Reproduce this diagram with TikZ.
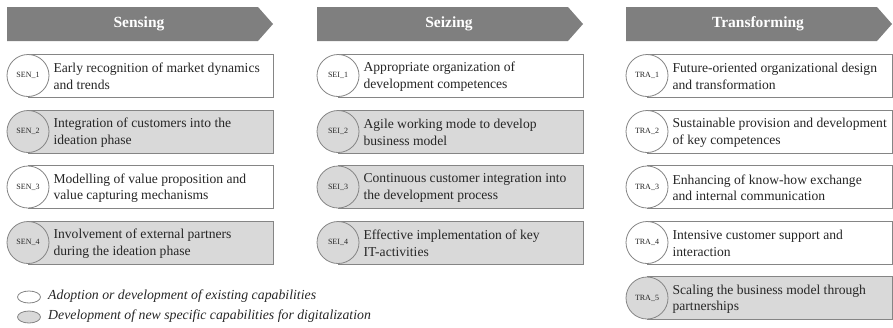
\documentclass[tikz,border=0pt]{standalone}
\usepackage{fontspec}
\setmainfont{Liberation Serif}
\usetikzlibrary{shapes.geometric}

\definecolor{hdrgray}{HTML}{7F7F7F}
\definecolor{linegray}{HTML}{858585}
\definecolor{newgray}{HTML}{D9D9D9}
\definecolor{txtgray}{HTML}{262626}

\tikzset{
  hdrshape/.style={fill=hdrgray, draw=none},
  hdrtext/.style={text=white, font=\fontsize{15.5}{18}\selectfont\bfseries, inner sep=0},
  capbox/.style={draw=linegray, line width=0.8pt, minimum height=43pt, minimum width=245pt, inner sep=0, anchor=west},
  capcirc/.style={draw=linegray, line width=0.8pt, circle, minimum size=42pt, inner sep=0,
                  font=\fontsize{8}{9}\selectfont, text=txtgray},
  captext/.style={anchor=west, align=left, font=\fontsize{13.6}{16.5}\selectfont, text=txtgray, inner sep=0},
  oldcap/.style={fill=white},
  newcap/.style={fill=newgray},
  legmark/.style={draw=linegray, line width=0.8pt, ellipse, minimum width=23pt, minimum height=12pt, inner sep=0},
  legtext/.style={anchor=west, font=\fontsize{13.8}{16}\selectfont\itshape, text=txtgray, inner sep=0},
}

% #1 node name, #2 column left edge, #3 row centre, #4 label, #5 style, #6 text
\newcommand\capitem[6]{%
  \node[capbox,#5] (#1box) at (#2+21,#3) {};
  \node[capcirc,#5] (#1) at (#2+21,#3) {#4};
  \node[captext] (#1txt) at ([xshift=4pt,yshift=-1pt]#1.east) {#6};
}

% #1 node name, #2 column left edge, #3 title
\newcommand\phasehead[3]{%
  \fill[hdrshape] (#2,7) -- (#2+251,7) -- (#2+266,24) -- (#2+251,41) -- (#2,41) -- cycle;
  \node[hdrtext] (#1) at (#2+132,24) {#3};
}

\begin{document}
\begin{tikzpicture}[x=1pt,y=-1pt]
  \useasboundingbox (0,0) rectangle (893,327);

  % phase headers
  \phasehead{hsen}{7}{Sensing}
  \phasehead{hsei}{317}{Seizing}
  \phasehead{htra}{626}{Transforming}

  % sensing capabilities
  \capitem{sen1}{7}{75.5}{SEN\_1}{oldcap}{Early recognition of market dynamics\\and trends}
  \capitem{sen2}{7}{131.5}{SEN\_2}{newcap}{Integration of customers into the\\ideation phase}
  \capitem{sen3}{7}{187}{SEN\_3}{oldcap}{Modelling of value proposition and\\value capturing mechanisms}
  \capitem{sen4}{7}{242.5}{SEN\_4}{newcap}{Involvement of external partners\\during the ideation phase}

  % seizing capabilities
  \capitem{sei1}{317}{75.5}{SEI\_1}{oldcap}{Appropriate organization of\\development competences}
  \capitem{sei2}{317}{131.5}{SEI\_2}{newcap}{Agile working mode to develop\\business model}
  \capitem{sei3}{317}{187}{SEI\_3}{newcap}{Continuous customer integration into\\the development process}
  \capitem{sei4}{317}{242.5}{SEI\_4}{newcap}{Effective implementation of key\\IT-activities}

  % transforming capabilities
  \capitem{tra1}{626}{75.5}{TRA\_1}{oldcap}{Future-oriented organizational design\\and transformation}
  \capitem{tra2}{626}{131.5}{TRA\_2}{oldcap}{Sustainable provision and development\\of key competences}
  \capitem{tra3}{626}{187}{TRA\_3}{oldcap}{Enhancing of know-how exchange\\and internal communication}
  \capitem{tra4}{626}{242.5}{TRA\_4}{oldcap}{Intensive customer support and\\interaction}
  \capitem{tra5}{626}{298}{TRA\_5}{newcap}{Scaling the business model through\\partnerships}

  % legend
  \node[legmark,oldcap] (legold) at (29,297) {};
  \node[legtext] (legoldtxt) at (48,296) {Adoption or development of existing capabilities};
  \node[legmark,newcap] (legnew) at (29,317) {};
  \node[legtext] (legnewtxt) at (48,316) {Development of new specific capabilities for digitalization};
\end{tikzpicture}
\end{document}
